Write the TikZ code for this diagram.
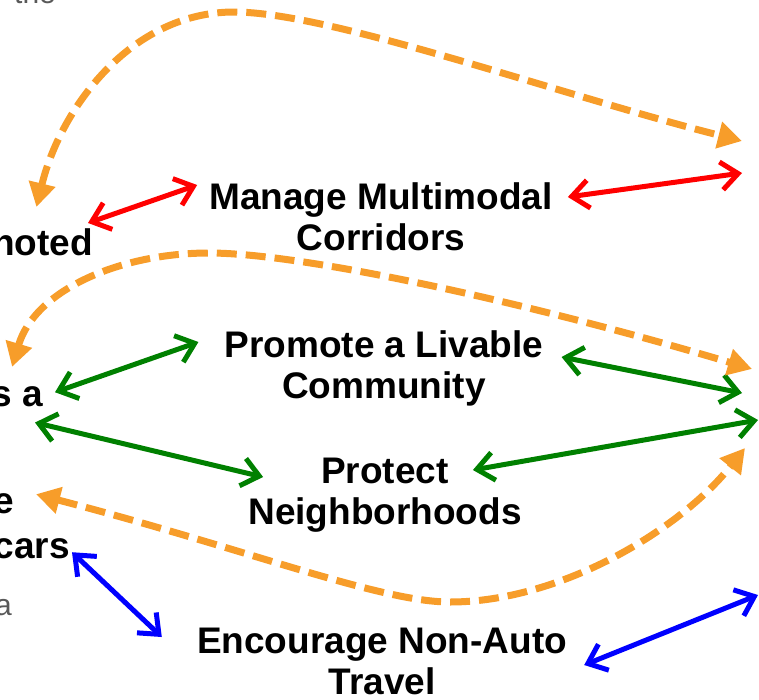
\documentclass[tikz,border=0pt]{standalone}
\usepackage{fontspec}
\setmainfont{Liberation Sans}
\usetikzlibrary{arrows.meta,positioning}

\definecolor{dashorange}{RGB}{247,157,42}
\definecolor{linkgreen}{RGB}{0,128,0}
\definecolor{fadegray}{RGB}{89,89,89}

\tikzset{
  goal/.style={font=\fontsize{37}{41}\selectfont\bfseries, align=center, inner sep=0pt, anchor=north},
  cut/.style={font=\fontsize{37}{41}\selectfont\bfseries, inner sep=0pt, anchor=base east},
  faded/.style={font=\fontsize{30}{36}\selectfont, text=fadegray, inner sep=0pt},
  link/.style={line width=5pt, {Straight Barb[length=17pt,width=28pt]}-{Straight Barb[length=17pt,width=28pt]}},
  feedback/.style={line width=7pt, dashorange, dash pattern=on 20pt off 9pt,
    {Triangle[length=24pt,width=26pt]}-{Triangle[length=24pt,width=26pt]}}
}

\begin{document}
\begin{tikzpicture}[x=1pt,y=-1pt]
  \useasboundingbox (0,0) rectangle (759,699);
  \clip (0,0) rectangle (759,699);

  \node[goal] (manage)    at (381,182) {Manage Multimodal\\Corridors};
  \node[goal] (livable)   at (384,330) {Promote a Livable\\Community};
  \node[goal] (protect)   at (385,458) {Protect\\Neighborhoods};
  \node[goal] (encourage) at (382,628) {Encourage Non-Auto\\Travel};

  \node[cut] (promoted) at (93,255) {noted};
  \node[cut] (sa)       at (43,406) {s a};
  \node[cut] (e)        at (14,513) {e};
  \node[cut] (cars)     at (70,558) {cars};
  \node[faded, anchor=base east] (a)   at (12,615) {a};
  \node[faded, anchor=base west] (the) at (14,3)   {the};

  \coordinate (out manage)    at (742,173);
  \coordinate (out livable)   at (742,393);
  \coordinate (out protect)   at (758,420);
  \coordinate (out encourage) at (758,595);
  \coordinate (loop top)      at (742,141);
  \coordinate (loop mid)      at (752,369);
  \coordinate (loop low)      at (745,448);

  \draw[link, red] ([shift={(-5,-5)}]promoted.north east) -- ([shift={(-12,3)}]manage.north west);
  \draw[link, red] ([shift={(15,15)}]manage.north east) -- (out manage);
  \draw[link, linkgreen] ([shift={(12,-4)}]sa.east) -- ([shift={(-26,12)}]livable.north west);
  \draw[link, linkgreen] ([shift={(-8,16)}]sa.south east) -- ([shift={(15,19)}]protect.north west);
  \draw[link, linkgreen] ([shift={(18,27)}]livable.north east) -- (out livable);
  \draw[link, linkgreen] ([shift={(-49,12)}]protect.north east) -- (out protect);
  \draw[link, blue] ([shift={(2,4)}]cars.east) -- ([shift={(-35,9)}]encourage.north west);
  \draw[link, blue] ([shift={(17,37)}]encourage.north east) -- (out encourage);

  \draw[feedback] ([shift={(-6,-21)}]promoted.north) .. controls (60,110) and (130,12) .. (234,12)
    .. controls (330,12) and (560,95) .. (loop top);
  \draw[feedback] ([shift={(-5,-19)}]sa.north) .. controls (35,290) and (120,253) .. (209,253)
    .. controls (300,253) and (520,300) .. (loop mid);
  \draw[feedback] ([shift={(22,-9)}]e.east) .. controls (250,550) and (380,602) .. (450,602)
    .. controls (560,602) and (680,530) .. (loop low);
\end{tikzpicture}
\end{document}
